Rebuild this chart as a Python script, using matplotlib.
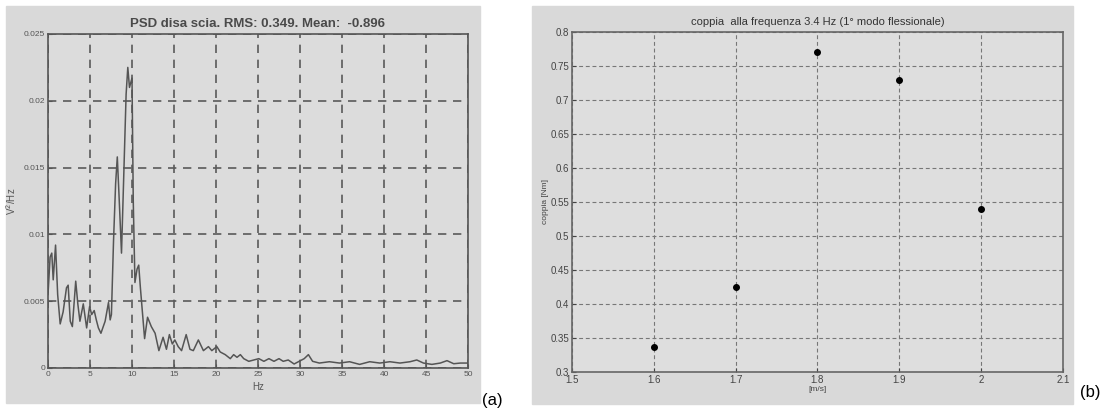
import matplotlib
matplotlib.use("Agg")
import matplotlib.pyplot as plt
from matplotlib.patches import Rectangle
import numpy as np

plt.rcParams['font.family'] = ['Liberation Sans', 'DejaVu Sans']

# Spettro PSD del segnale di scia (Hz, V^2/Hz)
psd_hz = [0, 0.25, 0.45, 0.62, 0.9, 1.15, 1.45, 1.8, 2.2, 2.4, 2.65, 2.9, 3.3, 3.55, 3.8,
          4.2, 4.6, 4.95, 5.2, 5.5, 5.75, 6.0, 6.3, 6.8, 7.2, 7.4, 7.55, 7.8, 8.05, 8.25,
          8.45, 8.75, 9.0, 9.3, 9.5, 9.7, 10.0, 10.15, 10.35, 10.6, 10.8, 11.0, 11.5, 11.85,
          12.3, 12.75, 13.2, 13.7, 14.1, 14.45, 14.8, 15.1, 15.5, 15.9, 16.45, 16.9, 17.3,
          17.9, 18.5, 19.1, 19.5, 20.1, 20.5, 21.1, 21.7, 22.1, 22.5, 22.9, 23.3, 23.9, 24.5,
          25.1, 25.7, 26.3, 26.9, 27.5, 28.0, 28.6, 29.3, 29.9, 30.5, 31.0, 31.5, 32.3, 33.5,
          34.7, 35.9, 37.1, 38.3, 39.5, 40.7, 41.9, 43.1, 43.9, 44.7, 45.7, 46.7, 47.5, 48.3,
          49.1, 50]
psd_val = [0.0055, 0.0083, 0.0086, 0.0066, 0.0092, 0.0055, 0.0033, 0.0042, 0.0060, 0.0062,
           0.0035, 0.0031, 0.0065, 0.0048, 0.0035, 0.0048, 0.0030, 0.0046, 0.0040, 0.0043,
           0.0036, 0.0030, 0.0026, 0.0035, 0.0049, 0.0036, 0.0040, 0.0095, 0.0138, 0.0158,
           0.0130, 0.0086, 0.0140, 0.0205, 0.0225, 0.0210, 0.0217, 0.0125, 0.0064, 0.0074,
           0.0077, 0.0060, 0.0022, 0.0038, 0.0031, 0.0026, 0.0013, 0.0023, 0.0014, 0.0025,
           0.0018, 0.0021, 0.0016, 0.0013, 0.0025, 0.0014, 0.0013, 0.0021, 0.0013, 0.0016,
           0.0013, 0.0016, 0.0012, 0.0010, 0.0007, 0.0010, 0.0008, 0.0010, 0.0007, 0.0005,
           0.0006, 0.0007, 0.0005, 0.0007, 0.0005, 0.0007, 0.0005, 0.0006, 0.0003, 0.0005,
           0.0007, 0.0010, 0.0005, 0.00037, 0.00047, 0.00037, 0.00047, 0.00027, 0.00047,
           0.00037, 0.00047, 0.00037, 0.00047, 0.0006, 0.00037, 0.00027, 0.00037, 0.00055,
           0.00032, 0.00037, 0.00037]

# Coppia al primo modo flessionale in funzione della velocita'
vel = [1.6, 1.7, 1.8, 1.9, 2.0]
coppia = [0.337, 0.425, 0.77, 0.73, 0.54]

W, H = 1113, 408
fig = plt.figure(figsize=(W / 100, H / 100), dpi=100)
fig.patch.set_facecolor("white")

bg = "#d9d9d9"
# pannelli grigi dietro i due grafici
fig.patches.append(Rectangle((6 / W, 1 - 403 / H), 474 / W, 397 / H,
                             transform=fig.transFigure, color=bg, zorder=-5))
fig.patches.append(Rectangle((532 / W, 1 - 404 / H), 541 / W, 398 / H,
                             transform=fig.transFigure, color=bg, zorder=-5))

def box(x0, y0, x1, y1):
    return [x0 / W, 1 - y1 / H, (x1 - x0) / W, (y1 - y0) / H]

# (a) PSD
ax1 = fig.add_axes(box(48, 34, 468, 368))
ax1.set_facecolor("#dcdcdc")
ax1.plot(psd_hz, psd_val, color="#555555", lw=1.1)
ax1.set_xlim(0, 50)
ax1.set_ylim(0, 0.025)
ax1.set_xticks(np.arange(0, 51, 5))
ax1.set_yticks([0, 0.005, 0.01, 0.015, 0.02, 0.025])
ax1.set_yticklabels(["0", "0.005", "0.01", "0.015", "0.02", "0.025"])
ax1.grid(True, color="#5a5a5a", lw=1.2, ls=(0, (5, 4)))
ax1.tick_params(direction="in", length=3, labelsize=6, colors="#555555", pad=2)
for s in ax1.spines.values():
    s.set_color("#555555")
    s.set_linewidth(1.2)
ax1.set_title("PSD disa scia. RMS: 0.349. Mean:  -0.896", fontsize=9.5,
              fontweight="bold", color="#4a4a4a", pad=5)
ax1.set_xlabel("Hz", fontsize=7, color="#555555", labelpad=3)
ax1.set_ylabel("V$^2$/Hz", fontsize=7, color="#555555", labelpad=4)
fig.text(482 / W, 1 - 400 / H, "(a)", fontsize=12, va="center", ha="left")

# (b) coppia vs velocita'
ax2 = fig.add_axes(box(572, 32, 1063, 372))
ax2.set_facecolor("#dedede")
ax2.plot(vel, coppia, "o", color="black", ms=4, ls="none")
ax2.set_xlim(1.5, 2.1)
ax2.set_ylim(0.3, 0.8)
ax2.set_xticks([1.5, 1.6, 1.7, 1.8, 1.9, 2.0, 2.1])
ax2.set_xticklabels(["1.5", "1.6", "1.7", "1.8", "1.9", "2", "2.1"])
ax2.set_yticks(np.arange(0.3, 0.801, 0.05))
ax2.set_yticklabels(["0.3", "0.35", "0.4", "0.45", "0.5", "0.55", "0.6", "0.65",
                     "0.7", "0.75", "0.8"])
ax2.grid(True, color="#777777", lw=0.8, ls=(0, (3.5, 2.5)))
ax2.tick_params(direction="in", length=3, labelsize=7, colors="#444444", pad=2)
for s in ax2.spines.values():
    s.set_color("#666666")
    s.set_linewidth(1.2)
ax2.set_title("coppia  alla frequenza 3.4 Hz (1\u00b0 modo flessionale)", fontsize=8,
              color="#333333", pad=5)
ax2.set_xlabel("[m/s]", fontsize=6, color="#444444", labelpad=1)
ax2.set_ylabel("coppia [Nm]", fontsize=6, color="#444444", labelpad=1)
fig.text(1080 / W, 1 - 392 / H, "(b)", fontsize=12, va="center", ha="left")

fig.savefig("out.png", dpi=100, facecolor="white")
